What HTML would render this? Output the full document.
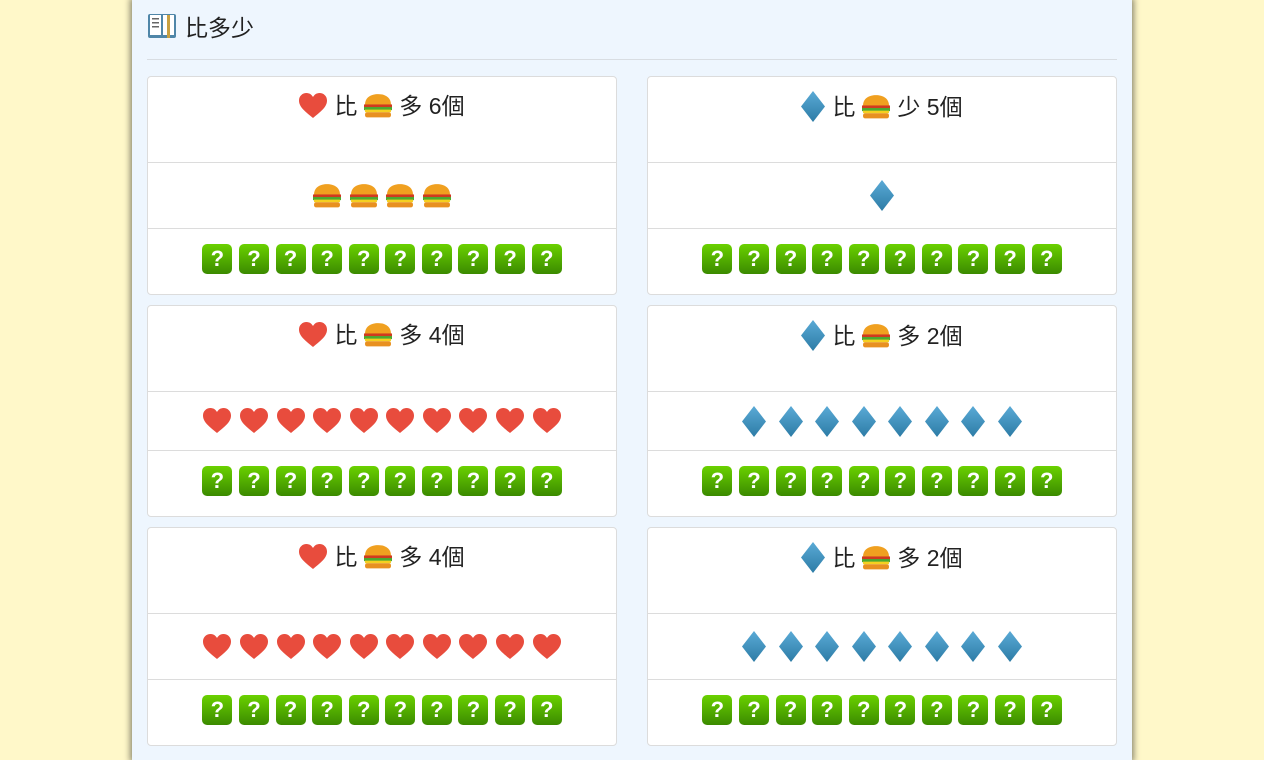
<!DOCTYPE html>
<html><head><meta charset="utf-8"><style>
*{box-sizing:border-box;margin:0;padding:0}
body{width:1264px;height:760px;background:#fff8c9;font-family:"Liberation Sans","Noto Sans CJK TC",sans-serif;overflow:hidden;position:relative}
#wrap{position:absolute;left:132px;top:0;width:1000px;height:760px;background:#eef6fe;box-shadow:0 0 6px 2px rgba(0,0,0,.45)}
#title{position:absolute;left:15px;top:10px;height:32px;display:flex;align-items:center;font-size:23px;color:#222}
#title svg{margin-right:8px}
#sep{position:absolute;left:15px;right:15px;top:59px;height:1px;background:#d8dde2}
.card{position:absolute;width:470px;background:#fff;border:1px solid #dcdcdc;border-radius:4px}
.row{display:flex;justify-content:center;align-items:center;border-top:1px solid #dcdcdc}
.row:first-child{border-top:none;align-items:flex-start;padding-top:14px;font-size:23px;color:#222}
.row.ans{align-items:flex-start;padding-top:15px}
.cell{width:30px;margin:0 3.3px;display:flex;justify-content:center;align-items:center}
.q{width:30px;height:30px;border-radius:5px;background:linear-gradient(#6ad100,#3b8a00);color:#fff;font-weight:bold;font-size:22px;display:flex;justify-content:center;align-items:center;font-family:"Liberation Sans",sans-serif}
.t{display:flex;align-items:center;gap:7px;line-height:30px}
</style></head><body>
<div id="wrap">
<div id="title">
<svg width="30" height="28" viewBox="0 0 30 28"><rect x="1" y="2" width="28" height="24" fill="#4f86a8" rx="2"/><rect x="3" y="3" width="11" height="20" fill="#fff"/><rect x="16" y="3" width="11" height="20" fill="#fff"/><rect x="5" y="6" width="7" height="1.5" fill="#666"/><rect x="5" y="10" width="7" height="1.5" fill="#666"/><rect x="5" y="14" width="7" height="1.5" fill="#666"/><rect x="20" y="3" width="3" height="23" fill="#c8a040"/></svg>
<span>比多少</span></div>
<div id="sep"></div>
</div>
<script>
const cards=[
 {x:15,y:76,a:'heart',op:'多',n:6,mid:'burger',midN:4,h:[85,66,66]},
 {x:515,y:76,a:'diamond',op:'少',n:5,mid:'diamond',midN:1,h:[85,66,66]},
 {x:15,y:305,a:'heart',op:'多',n:4,mid:'heart',midN:10,h:[85,59,66]},
 {x:515,y:305,a:'diamond',op:'多',n:2,mid:'diamond',midN:8,h:[85,59,66]},
 {x:15,y:527,a:'heart',op:'多',n:4,mid:'heart',midN:10,h:[85,66,66]},
 {x:515,y:527,a:'diamond',op:'多',n:2,mid:'diamond',midN:8,h:[85,66,66]}
];
const qCount=10;
function icon(t){
 if(t==='heart')return '<svg width="28" height="26" viewBox="0 0 28 26"><path d="M14 25 C4 17 0 13 0 7.5 C0 3 3.5 0 7.5 0 C10.5 0 12.8 1.8 14 4 C15.2 1.8 17.5 0 20.5 0 C24.5 0 28 3 28 7.5 C28 13 24 17 14 25Z" fill="#e84c3d"/></svg>';
 if(t==='diamond')return '<svg width="24" height="31" viewBox="0 0 24 31"><defs><linearGradient id="dg" x1="0" y1="0" x2="0" y2="1"><stop offset="0" stop-color="#5aaad6"/><stop offset="1" stop-color="#2d7ca6"/></linearGradient></defs><path d="M12 0 L24 15.5 L12 31 L0 15.5Z" fill="url(#dg)"/></svg>';
 return '<svg width="28" height="24" viewBox="0 0 27 23"><path d="M1 10 C1 3 7 0 13.5 0 C20 0 26 3 26 10Z" fill="#f0a020"/><rect x="0" y="10" width="27" height="3" fill="#d03a20"/><rect x="0" y="12.5" width="27" height="3" fill="#4caa30"/><rect x="1" y="15" width="25" height="2.5" fill="#f5d020"/><rect x="1" y="17.5" width="25" height="5" rx="2" fill="#e89020"/></svg>';
}
const wrap=document.getElementById('wrap');
cards.forEach((c,i)=>{
 const d=document.createElement('div');
 d.className='card';
 
 
 d.style.left=c.x+'px';d.style.top=c.y+'px';
 let r1=`<div class="row" style="height:${c.h[0]}px"><div class="t">${icon(c.a)}<span>比</span>${icon('burger')}<span>${c.op} ${c.n}個</span></div></div>`;
 let mid='';for(let k=0;k<c.midN;k++)mid+=`<div class="cell">${icon(c.mid)}</div>`;
 let r2=`<div class="row" style="height:${c.h[1]}px">${mid}</div>`;
 let q='';for(let k=0;k<qCount;k++)q+=`<div class="cell"><div class="q">?</div></div>`;
 let r3=`<div class="row ans" style="height:${c.h[2]}px">${q}</div>`;
 d.innerHTML=r1+r2+r3;
 wrap.appendChild(d);
});
</script>
</body></html>
